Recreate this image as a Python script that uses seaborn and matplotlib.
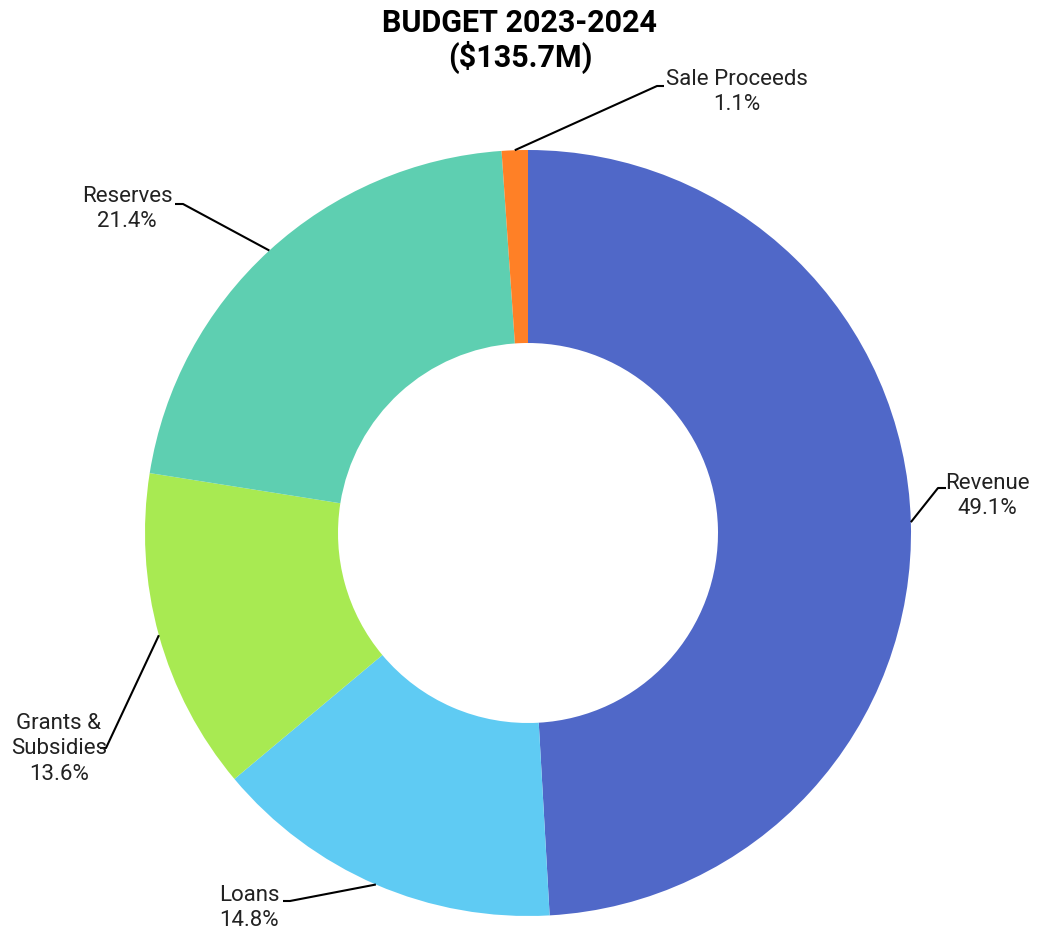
import numpy as np
import matplotlib
matplotlib.use("Agg")
import matplotlib.pyplot as plt
import seaborn as sns

# ---- data ----
categories = ["Revenue", "Loans", "Grants &\nSubsidies", "Reserves", "Sale Proceeds"]
shares = [49.1, 14.8, 13.6, 21.4, 1.1]
colors = ["#5068C8", "#5FCBF3", "#A8EA52", "#5ECFB1", "#FF8026"]
title_text = "BUDGET 2023-2024\n($135.7M)"

# ---- layout (pixel coords, y down) ----
W, H = 1040, 934
cx, cy = 528, 533
R_out, R_in = 383, 190
label_layout = {
    "Revenue": dict(elbow=(938, 488), end=(946, 488), text=(987, 496)),
    "Loans": dict(elbow=(290, 901), end=(283, 901), text=(249, 908)),
    "Grants &\nSubsidies": dict(elbow=(106, 748), end=(100, 748), text=(59, 749)),
    "Reserves": dict(elbow=(183, 204), end=(175, 204), text=(127, 209)),
    "Sale Proceeds": dict(elbow=(657, 86), end=(664, 86), text=(737, 92)),
}

sns.set_theme(style="white")
plt.rcParams["font.family"] = ["Roboto", "DejaVu Sans"]

fig = plt.figure(figsize=(W / 100, H / 100), dpi=100)
ax = fig.add_axes([0, 0, 1, 1])

def fy(y):
    return H - y

wedges, _ = ax.pie(shares, colors=colors, startangle=90, counterclock=False,
                   center=(cx, fy(cy)), radius=R_out,
                   wedgeprops=dict(width=R_out - R_in, linewidth=0))
ax.set_xlim(0, W)
ax.set_ylim(0, H)
ax.set_aspect("equal")
ax.axis("off")

total = sum(shares)
cum = 0.0
for cat, s in zip(categories, shares):
    mid = (cum + s / 2) / total
    cum += s
    ang = np.deg2rad(90 - 360 * mid)
    ax_pt = (cx + R_out * np.cos(ang), fy(cy) + R_out * np.sin(ang))
    lay = label_layout[cat]
    ex, ey = lay["elbow"]
    nx, ny = lay["end"]
    ax.plot([ax_pt[0], ex, nx], [ax_pt[1], fy(ey), fy(ny)], color="black", lw=1.5,
            solid_capstyle="butt")
    tx, ty = lay["text"]
    ax.text(tx, fy(ty), f"{cat}\n{s:.1f}%", ha="center", va="center",
            fontsize=16, color="#222222", linespacing=1.28)

ax.text(520, fy(41), title_text, ha="center", va="center", fontsize=22,
        fontweight="bold", color="black", linespacing=1.08)

fig.savefig("out.png", dpi=100, facecolor="white")
